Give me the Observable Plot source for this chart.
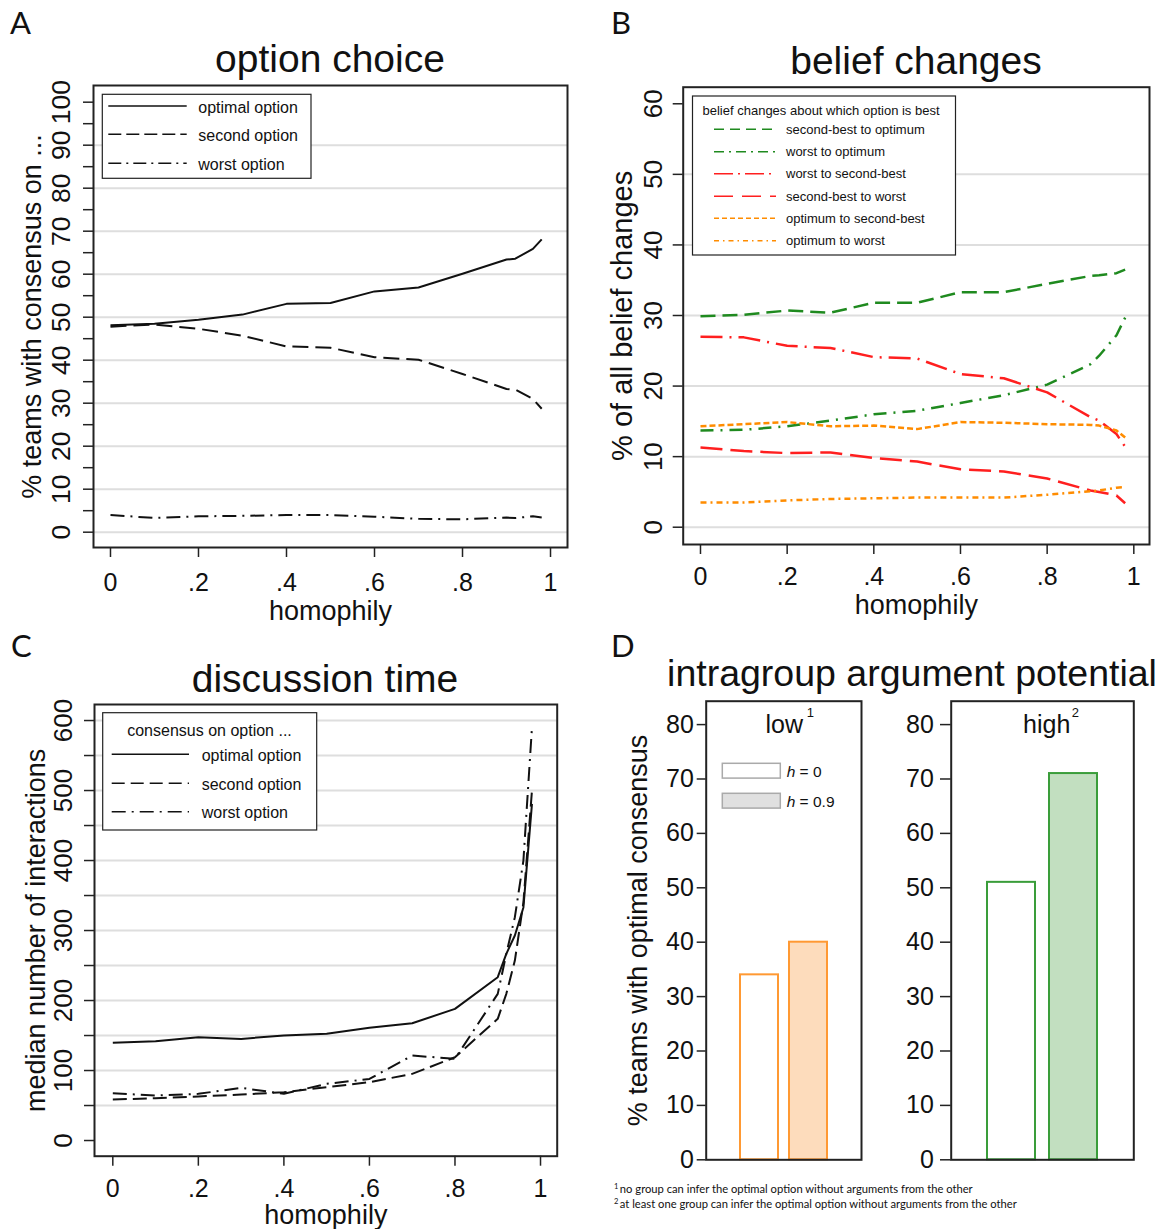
<!DOCTYPE html>
<html>
<head>
<meta charset="utf-8">
<script src="https://cdn.jsdelivr.net/npm/d3@7"></script>
<script src="https://cdn.jsdelivr.net/npm/@observablehq/plot@0.6"></script>
<style>
  body { margin: 0; background: #fff; }
  #page { position: relative; width: 1165px; height: 1229px; overflow: hidden; background: #fff; }
  .panel { position: absolute; }
  .panel svg { max-width: none; }
</style>
</head>
<body>
<div id="page"></div>
<script>
const FONT = "'Liberation Sans', Arial, Helvetica, sans-serif";
const LETTER_FONT = "Lato, 'Open Sans', sans-serif";
const GRID = "#dedede";
const INK = "#111";
const FRAME = "#222";

// ---- homophily levels (x) ----
const homophilyAB = [0, 0.1, 0.2, 0.3, 0.4, 0.5, 0.6, 0.7, 0.8, 0.9, 0.92, 0.96, 0.98];
const homophilyC  = [0, 0.1, 0.2, 0.3, 0.4, 0.5, 0.6, 0.7, 0.8, 0.9, 0.92, 0.94, 0.96, 0.98];
const homophilyTicks = [0, 0.2, 0.4, 0.6, 0.8, 1];

// ---- A: % teams with consensus on each option ----
const consensusOptimal = [48.1, 48.5, 49.4, 50.6, 53.1, 53.3, 56.0, 56.9, 60.1, 63.4, 63.6, 65.9, 68.1];
const consensusSecond  = [47.8, 48.3, 47.3, 45.7, 43.2, 42.9, 40.7, 40.1, 36.8, 33.3, 33.2, 31.0, 28.7];
const consensusWorst   = [4.0, 3.3, 3.7, 3.8, 4.0, 4.0, 3.6, 3.1, 3.0, 3.4, 3.3, 3.7, 3.4];
const yTicksA = [0, 5, 10, 15, 20, 25, 30, 35, 40, 45, 50, 55, 60, 65, 70, 75, 80, 85, 90, 95, 100];
const gridA = [0, 10, 20, 30, 40, 50, 60, 70, 80, 90];

// ---- B: % of all belief changes ----
const secondBestToOptimum = [29.9, 30.1, 30.7, 30.4, 31.8, 31.8, 33.3, 33.3, 34.5, 35.6, 35.7, 36.0, 36.5];
const worstToOptimum      = [13.7, 13.8, 14.3, 15.1, 16.0, 16.5, 17.6, 18.7, 20.2, 23.1, 24.3, 27.2, 29.7];
const worstToSecondBest   = [27.0, 26.9, 25.7, 25.4, 24.1, 23.9, 21.7, 21.1, 19.1, 15.6, 15.1, 13.2, 11.4];
const secondBestToWorst   = [11.3, 10.8, 10.5, 10.6, 9.8, 9.3, 8.2, 7.9, 6.9, 5.2, 5.0, 4.5, 3.4];
const optimumToSecondBest = [14.3, 14.6, 14.9, 14.3, 14.4, 13.9, 14.9, 14.8, 14.6, 14.5, 14.4, 13.7, 12.7];
const optimumToWorst      = [3.5, 3.5, 3.8, 4.0, 4.1, 4.2, 4.2, 4.2, 4.6, 5.1, 5.2, 5.6, 5.7];
const yTicksB = [0, 10, 20, 30, 40, 50, 60];
const gridB = [0, 10, 20, 30, 40, 50];

// ---- C: median number of interactions ----
const timeOptimal = [139.5, 141.9, 147.6, 145.2, 150, 152.4, 161, 167.6, 188, 233.3, 266.7, 292.9, 333, 481];
const timeSecond  = [58.6, 60.5, 62.9, 65.7, 69, 76.2, 83.3, 95.2, 119, 173.8, 209.5, 257, 340, 500];
const timeWorst   = [67.6, 64.3, 66.7, 75.2, 66.7, 81, 88, 121.4, 116.7, 209.5, 266.7, 319, 400, 590];
const yTicksC = [0, 50, 100, 150, 200, 250, 300, 350, 400, 450, 500, 550, 600];
const gridC = [50, 100, 150, 200, 250, 300, 350, 400, 450, 500, 550, 600];

// ---- D: % teams with optimal consensus ----
const hLevels = ["0", "0.9"];
const optimalLow  = [34, 40];
const optimalHigh = [51, 71];
const yTicksD = [0, 10, 20, 30, 40, 50, 60, 70, 80];

const footnotes = [
  ["1", "no group can infer the optimal option without arguments from the other"],
  ["2", "at least one group can infer the optimal option without arguments from the other"]
];

// ---- helpers ----
const page = document.getElementById("page");
function place(node, left, top) {
  const div = document.createElement("div");
  div.className = "panel";
  div.style.left = left + "px";
  div.style.top = top + "px";
  div.appendChild(node);
  page.appendChild(div);
}
const rows = (xs, ys) => xs.map((h, i) => ({h, v: ys[i]}));
const fmtH = (d) => (d === 0 ? "0" : d === 1 ? "1" : String(d).replace(/^0/, ""));
const baseStyle = {fontFamily: FONT, background: "transparent", color: INK, overflow: "visible"};

function lineMarks(xs, series, width) {
  return series.map((s) =>
    Plot.line(rows(xs, s.values), {
      x: "h", y: "v", stroke: s.color, strokeWidth: width,
      strokeDasharray: s.dash || null, strokeLinecap: "butt", strokeLinejoin: "round"
    })
  );
}
// vertical axis title, centred on the frame's height
const yTitle = (s, dx, size) =>
  Plot.text([s], {text: (d) => d, frameAnchor: "left", dx, rotate: -90, textAnchor: "middle", lineAnchor: "bottom", fontSize: size});
const xTitle = (s, dy, size) =>
  Plot.text([s], {text: (d) => d, frameAnchor: "bottom", dy, textAnchor: "middle", lineAnchor: "bottom", fontSize: size});

// ---- series styling ----
const seriesA = [
  {name: "optimal option", values: consensusOptimal, color: INK, dash: null, legendDash: null},
  {name: "second option", values: consensusSecond, color: INK, dash: "16,7", legendDash: "13,5"},
  {name: "worst option", values: consensusWorst, color: INK, dash: "14,6,2,6", legendDash: "13,5,2,5"}
];
const GREEN = "#1f8a1f", RED = "#ff1f1f", ORANGE = "#ff8c00";
const seriesB = [
  {name: "second-best to optimum", values: secondBestToOptimum, color: GREEN, dash: "15,7", legendDash: "10,6"},
  {name: "worst to optimum", values: worstToOptimum, color: GREEN, dash: "13,7,2,7", legendDash: "10,5,2,5"},
  {name: "worst to second-best", values: worstToSecondBest, color: RED, dash: "22,7,2,7", legendDash: "19,5,2,5"},
  {name: "second-best to worst", values: secondBestToWorst, color: RED, dash: "22,8", legendDash: "19,9"},
  {name: "optimum to second-best", values: optimumToSecondBest, color: ORANGE, dash: "6,3", legendDash: "5,3"},
  {name: "optimum to worst", values: optimumToWorst, color: ORANGE, dash: "6,4,2,4", legendDash: "5,4,1.5,4"}
];
const seriesC = [
  {name: "optimal option", values: timeOptimal, color: INK, dash: null, legendDash: null},
  {name: "second option", values: timeSecond, color: INK, dash: "14,6", legendDash: "13,6"},
  {name: "worst option", values: timeWorst, color: INK, dash: "14,6,2,6", legendDash: "14,6,2,6"}
];

// ---- Panel A: option choice ----
const plotA = Plot.plot({
  width: 600, height: 630,
  marginLeft: 93, marginTop: 85, marginRight: 33, marginBottom: 83,
  style: baseStyle,
  x: {domain: [-0.0386, 1.0386]},
  y: {domain: [-3.56, 103.88]},
  marks: [
    Plot.ruleY(gridA, {stroke: GRID, strokeWidth: 2}),
    ...lineMarks(homophilyAB, seriesA, 2),
    Plot.frame({stroke: FRAME, strokeWidth: 2}),
    Plot.axisX({ticks: homophilyTicks, tickFormat: fmtH, tickSize: 10, tickPadding: 16, fontSize: 25, stroke: FRAME, strokeWidth: 1.5, label: null}),
    Plot.axisY({ticks: yTicksA, tickFormat: (d) => (d % 10 === 0 ? String(d) : ""), tickSize: 10, tickPadding: 13.6, tickRotate: -90, fontSize: 26.5, stroke: FRAME, strokeWidth: 1.5, label: null}),
    xTitle("homophily", 72, 27),
    yTitle("% teams with consensus on ...", -53, 27)
  ]
});
place(plotA, 0, 0);

// ---- Panel B: belief changes ----
const plotB = Plot.plot({
  width: 565, height: 630,
  marginLeft: 82.7, marginTop: 86.7, marginRight: 16, marginBottom: 86,
  style: baseStyle,
  x: {domain: [-0.0399, 1.0362]},
  y: {domain: [-2.45, 62.35]},
  marks: [
    Plot.ruleY(gridB, {stroke: GRID, strokeWidth: 2}),
    ...lineMarks(homophilyAB, seriesB, 2.5),
    Plot.frame({stroke: FRAME, strokeWidth: 2}),
    Plot.axisX({ticks: homophilyTicks, tickFormat: fmtH, tickSize: 10, tickPadding: 13, fontSize: 25, stroke: FRAME, strokeWidth: 1.5, label: null}),
    Plot.axisY({ticks: yTicksB, tickFormat: (d) => String(d), tickSize: 10, tickPadding: 11.4, tickRotate: -90, fontSize: 26, stroke: FRAME, strokeWidth: 1.5, label: null}),
    xTitle("homophily", 69, 27),
    yTitle("% of all belief changes", -51, 29)
  ]
});
place(plotB, 600, 0);

// ---- Panel C: discussion time ----
const plotC = Plot.plot({
  width: 600, height: 599,
  marginLeft: 94, marginTop: 74, marginRight: 43.3, marginBottom: 73.3,
  style: baseStyle,
  x: {domain: [-0.0428, 1.039]},
  y: {domain: [-22.4, 622.9]},
  marks: [
    Plot.ruleY(gridC, {stroke: GRID, strokeWidth: 2}),
    ...lineMarks(homophilyC, seriesC, 2),
    Plot.frame({stroke: FRAME, strokeWidth: 2}),
    Plot.axisX({ticks: homophilyTicks, tickFormat: fmtH, tickSize: 10, tickPadding: 13, fontSize: 25, stroke: FRAME, strokeWidth: 1.5, label: null}),
    Plot.axisY({ticks: yTicksC, tickFormat: (d) => (d % 100 === 0 ? String(d) : ""), tickSize: 10, tickPadding: 12.7, tickRotate: -90, fontSize: 26, stroke: FRAME, strokeWidth: 1.5, label: null}),
    xTitle("homophily", 67.5, 27),
    yTitle("median number of interactions", -50, 27)
  ]
});
place(plotC, 0, 630);

// ---- Panel D: intragroup argument potential (two bar panels) ----
function barPanel({values, stroke, fill, width, marginLeft, marginRight, paddingInner, paddingOuter, tickSize, tickPadding, title}) {
  const data = hLevels.map((level, i) => ({level, value: values[i]}));
  return Plot.plot({
    width, height: 599,
    marginLeft, marginRight, marginTop: 70.7, marginBottom: 69.7,
    style: baseStyle,
    x: {domain: hLevels, paddingInner, paddingOuter, axis: null},
    y: {domain: [0, 84.3]},
    marks: [
      Plot.barY([data[0]], {x: "level", y: "value", fill: "white", stroke, strokeWidth: 2}),
      Plot.barY([data[1]], {x: "level", y: "value", fill, stroke, strokeWidth: 2}),
      Plot.frame({stroke: FRAME, strokeWidth: 2}),
      Plot.axisY({ticks: yTicksD, tickFormat: (d) => String(d), tickSize, tickPadding, fontSize: 25, stroke: FRAME, strokeWidth: 1.5, label: null}),
      ...(title ? [yTitle(title, -59.2, 27)] : [])
    ]
  });
}
place(barPanel({values: optimalLow, stroke: "#ff9933", fill: "#fddcbc", width: 270, marginLeft: 105.7, marginRight: 9,
  paddingInner: 0.215, paddingOuter: 0.683, tickSize: 9, tickPadding: 3.4, title: "% teams with optimal consensus"}), 600, 630);
place(barPanel({values: optimalHigh, stroke: "#3a9d3a", fill: "#c2dfc0", width: 295, marginLeft: 80.7, marginRight: 31.7,
  paddingInner: 0.223, paddingOuter: 0.565, tickSize: 10.7, tickPadding: 6.7, title: null}), 870, 630);

// ---- titles, panel letters, legends, notes ----
const overlay = d3.create("svg")
  .attr("width", 1165).attr("height", 1229)
  .style("position", "absolute").style("left", "0px").style("top", "0px")
  .style("pointer-events", "none")
  .attr("font-family", FONT);

function label(x, y, s, size, anchor = "start", family = FONT) {
  return overlay.append("text")
    .attr("x", x).attr("y", y)
    .attr("font-size", size).attr("text-anchor", anchor)
    .attr("font-family", family).attr("fill", INK)
    .text(s);
}

// panel letters
[["A", 10, 34], ["B", 611, 34], ["C", 11, 657], ["D", 611, 657]].forEach(([s, x, y]) => label(x, y, s, 31, "start", LETTER_FONT));

// panel titles
label(330, 72, "option choice", 39, "middle");
label(916, 74, "belief changes", 39, "middle");
label(325, 692, "discussion time", 39, "middle");
label(912, 686, "intragroup argument potential", 37.5, "middle");

function legendBox(x, y, w, h) {
  overlay.append("rect").attr("x", x).attr("y", y).attr("width", w).attr("height", h)
    .attr("fill", "white").attr("stroke", FRAME).attr("stroke-width", 1.2);
}
function legendLines(series, ys, x1, x2, textX, size, width, textDy) {
  series.forEach((s, i) => {
    overlay.append("line")
      .attr("x1", x1).attr("x2", x2).attr("y1", ys[i]).attr("y2", ys[i])
      .attr("stroke", s.color).attr("stroke-width", width)
      .attr("stroke-dasharray", s.legendDash);
    label(textX, ys[i] + textDy, s.name, size);
  });
}

// legend A
legendBox(102.3, 94.3, 208.7, 84);
legendLines(seriesA, [106, 134.3, 163.3], 108.3, 186.7, 198.3, 16, 1.6, 6.5);

// legend B
legendBox(692.5, 96, 263, 159);
label(702.5, 115, "belief changes about which option is best", 13);
legendLines(seriesB, [129.3, 151.7, 173.7, 196.3, 218.3, 240.7], 714, 776, 786, 13, 1.6, 4.5);

// legend C
legendBox(102.7, 712.7, 214, 117.3);
label(209.5, 736, "consensus on option ...", 16, "middle");
legendLines(seriesC, [754.3, 783.3, 811.7], 111.7, 189, 201.7, 16, 1.6, 6.5);

// subpanel headers with superscript notes
label(784.2, 733.3, "low", 25, "middle");
label(806.7, 717, "1", 13);
label(1046.7, 733, "high", 25, "middle");
label(1071.7, 717, "2", 13);

// legend D (fill by homophily)
const swatchFill = ["white", "#e0e0e0"];
const swatchY = [763.3, 793.3];
hLevels.forEach((level, i) => {
  overlay.append("rect").attr("x", 722.3).attr("y", swatchY[i]).attr("width", 58).attr("height", 14.8)
    .attr("fill", swatchFill[i]).attr("stroke", "#aaaaaa").attr("stroke-width", 1.5);
  const t = overlay.append("text").attr("x", 786.7).attr("y", swatchY[i] + 13.5)
    .attr("font-size", 15.5).attr("fill", INK).attr("font-family", FONT);
  t.append("tspan").attr("font-style", "italic").text("h");
  t.append("tspan").text(" = " + level);
});

// footnotes
footnotes.forEach(([mark, note], i) => {
  const y = 1192.7 + i * 15;
  const t = overlay.append("text").attr("x", 614).attr("y", y)
    .attr("font-family", LETTER_FONT).attr("font-size", 11.2).attr("fill", INK);
  t.append("tspan").attr("font-size", 7.5).attr("dy", -4).text(mark);
  t.append("tspan").attr("dy", 4).attr("dx", 1.5).text(note);
});

page.appendChild(overlay.node());
</script>
</body>
</html>
